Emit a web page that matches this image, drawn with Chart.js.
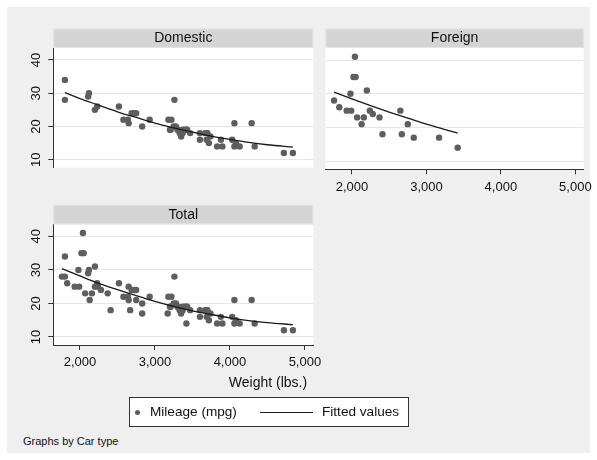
<!DOCTYPE html>
<html>
<head>
<meta charset="utf-8">
<script src="https://cdn.jsdelivr.net/npm/chart.js@4.4.1/dist/chart.umd.min.js"></script>
<style>
  html, body { margin: 0; padding: 0; background: #fff; }
  body { width: 597px; height: 460px; position: relative; overflow: hidden;
         font-family: "Liberation Sans", Arial, sans-serif; color: #111; }
  #frame { position: absolute; left: 7px; top: 7px; width: 583px; height: 446px; background: #efefef; }
  canvas { position: absolute; }
  #xtitle { position: absolute; left: 168px; width: 200px; top: 374px; text-align: center; font-size: 14px; }
  #legend { position: absolute; left: 129px; top: 397px; width: 278px; height: 28px;
            background: #fff; border: 1px solid #333; font-size: 13.6px; }
  #legend .dot { position: absolute; left: 5px; top: 12px; width: 5px; height: 5px; border-radius: 50%; background: #5e5e5e; }
  #legend .lbl { position: absolute; top: 6px; white-space: nowrap; }
  #legend .ln { position: absolute; left: 130px; top: 14px; width: 53px; height: 0; border-top: 1.4px solid #222; }
  #note { position: absolute; left: 23px; top: 435px; font-size: 11px; white-space: nowrap; }
</style>
</head>
<body>
<div id="frame"></div>
<canvas id="cDom" width="320" height="180" style="left:0;top:0"></canvas>
<canvas id="cFor" width="277" height="200" style="left:320px;top:0"></canvas>
<canvas id="cTot" width="330" height="190" style="left:0;top:190px"></canvas>
<div id="xtitle">Weight (lbs.)</div>
<div id="legend">
  <span class="dot"></span><span class="lbl" style="left:20px">Mileage (mpg)</span>
  <span class="ln"></span><span class="lbl" style="left:192px">Fitted values</span>
</div>
<div id="note">Graphs by Car type</div>
<script>
// auto data: weight (lbs.) and mileage (mpg)
var domesticWeight = [2930,3350,2640,3250,4080,3670,2230,3280,3880,3400,4330,3900,4290,2110,3690,3180,3220,2750,3430,2120,
  3600,3600,3740,1800,2650,4840,4720,3830,2580,4060,3720,3370,4130,2830,4060,3310,3300,3690,3370,2730,4030,3260,1800,2200,
  2520,3330,3700,3470,3210,3200,3420,2690];
var domesticMpg = [22,17,22,20,15,18,26,20,16,19,14,14,21,29,16,22,22,24,19,30,
  18,16,17,28,21,12,12,14,22,14,15,18,14,20,21,19,19,18,19,24,16,28,34,25,
  26,18,18,18,19,19,19,24];
var foreignWeight = [2830,2070,2650,2370,2020,2280,2750,2130,2240,1760,1980,3420,1830,2050,2410,2200,2670,2160,2040,1930,1990,3170];
var foreignMpg = [17,23,25,23,35,24,21,21,25,28,30,14,26,35,18,31,18,23,41,25,25,17];

// fitted values
var fitDomWeight = [1800,2000,2250,2500,2750,3000,3250,3500,3750,4000,4250,4500,4840];
var fitDomMpg = [30.2,28.4,26.4,24.4,22.7,21.0,19.6,18.3,17.1,16.1,15.2,14.5,13.8];
var fitForWeight = [1760,2000,2250,2500,2750,3000,3250,3420];
var fitForMpg = [30.5,28.5,26.5,24.6,22.8,21.0,19.4,18.35];
var fitTotWeight = [1760,2000,2250,2500,2750,3000,3250,3500,3750,4000,4250,4500,4840];
var fitTotMpg = [30.4,28.2,26.0,24.1,22.3,20.6,19.1,17.8,16.7,15.7,14.9,14.3,13.65];

var xTicks = [2000, 3000, 4000, 5000];
var xTickLabels = ['2,000', '3,000', '4,000', '5,000'];
var yTicks = [10, 20, 30, 40];

var FONT = '"Liberation Sans", Arial, sans-serif';
var totalWeight = domesticWeight.concat(foreignWeight);
var totalMpg = domesticMpg.concat(foreignMpg);

function pts(xs, ys) { return xs.map(function (x, i) { return { x: x, y: ys[i] }; }); }

var panelPlugin = {
  id: 'panel',
  beforeDraw: function (chart) {
    var a = chart.chartArea, ctx = chart.ctx;
    ctx.save();
    ctx.fillStyle = '#fff';
    ctx.fillRect(a.left, a.top, a.right - a.left, a.bottom - a.top);
    ctx.restore();
  },
  afterDraw: function (chart, args, opts) {
    var a = chart.chartArea, ctx = chart.ctx;
    ctx.save();
    ctx.fillStyle = '#d4d4d4';
    ctx.fillRect(a.left, a.top - 19.5, a.right - a.left, 19.5);
    ctx.strokeStyle = '#dfe7ea';
    ctx.lineWidth = 1;
    ctx.strokeRect(a.left + 0.5, a.top - 19, a.right - a.left - 1, 18.5);
    ctx.fillStyle = '#111';
    ctx.font = '14px ' + FONT;
    ctx.textAlign = 'center';
    ctx.textBaseline = 'middle';
    ctx.fillText(opts.text, (a.left + a.right) / 2, a.top - 9.5);
    ctx.restore();
  }
};

function makePanel(id, title, xs, ys, fx, fy, o) {
  new Chart(document.getElementById(id), {
    type: 'scatter',
    data: {
      datasets: [
        { data: pts(fx, fy), showLine: true, borderColor: '#1a1a1a', borderWidth: 1.3,
          pointRadius: 0, cubicInterpolationMode: 'monotone', order: 0 },
        { data: pts(xs, ys), pointRadius: 3.2, pointBackgroundColor: '#5e5e5e',
          pointBorderWidth: 0, order: 1 }
      ]
    },
    options: {
      responsive: false, animation: false, events: [],
      layout: { padding: o.padding },
      plugins: { legend: { display: false }, tooltip: { enabled: false }, panel: { text: title } },
      scales: {
        x: {
          type: 'linear', min: 1645, max: 5112, display: o.showX,
          afterBuildTicks: function (s) { s.ticks = xTicks.map(function (v) { return { value: v }; }); },
          afterFit: function (s) { s.height = o.xHeight; },
          grid: { drawOnChartArea: false, drawTicks: true, tickLength: 5, tickColor: '#333' },
          border: { color: '#333', width: 1 },
          ticks: { padding: 5, color: '#111', font: { family: FONT, size: 13 }, maxRotation: 0,
                   callback: function (v) { return xTickLabels[xTicks.indexOf(v)]; } }
        },
        y: {
          type: 'linear', min: 7.6, max: 43.6,
          afterBuildTicks: function (s) { s.ticks = yTicks.map(function (v) { return { value: v }; }); },
          afterFit: function (s) { s.width = o.yWidth; },
          grid: { color: '#e6e6e6', lineWidth: 1, drawTicks: o.showY, tickLength: 5, tickColor: '#333' },
          border: { display: o.showY, color: '#333', width: 1 },
          ticks: { display: o.showY, padding: 4.5, color: '#111', font: { family: FONT, size: 13 },
                   minRotation: 90, maxRotation: 90, crossAlign: 'center' }
        }
      }
    },
    plugins: [panelPlugin]
  });
}

makePanel('cDom', 'Domestic', domesticWeight, domesticMpg, fitDomWeight, fitDomMpg,
  { padding: { top: 48, right: 6.7, bottom: 10.7, left: 0 }, showX: false, showY: true, yWidth: 53.3, xHeight: 0 });
makePanel('cFor', 'Foreign', foreignWeight, foreignMpg, fitForWeight, fitForMpg,
  { padding: { top: 48, right: 11.5, bottom: 0, left: 5.5 }, showX: true, showY: false, yWidth: 0, xHeight: 30.7 });
makePanel('cTot', 'Total', totalWeight, totalMpg, fitTotWeight, fitTotMpg,
  { padding: { top: 34.3, right: 16.7, bottom: 0, left: 0 }, showX: true, showY: true, yWidth: 53.3, xHeight: 35 });
</script>
</body>
</html>
